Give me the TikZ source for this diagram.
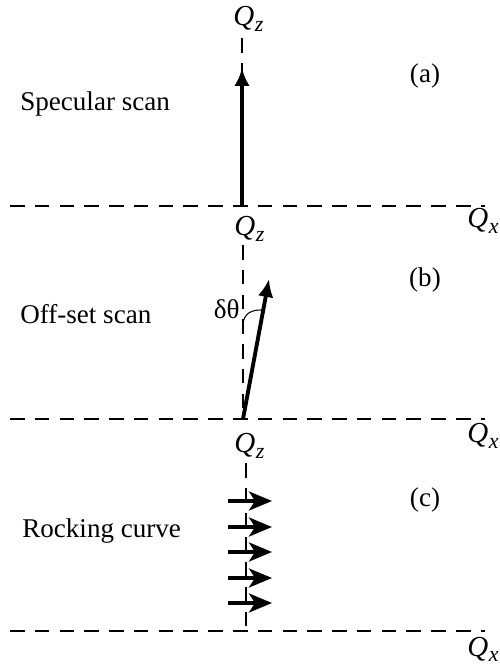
\documentclass[tikz,border=0pt]{standalone}
\usepackage{fontspec}
\setmainfont{Liberation Serif}
\usetikzlibrary{arrows.meta, positioning, calc}

% axis name with a lowered italic index
\newcommand{\qaxis}[1]{{\fontsize{16.5}{18}\selectfont\textit{Q}}\kern0.3pt\raisebox{-0.45ex}{\fontsize{12.5}{14}\selectfont\textit{#1}}}

\begin{document}
\begin{tikzpicture}[
    font=\fontsize{15.4}{18}\selectfont,
    axisline/.style={line width=0.75pt, dash pattern=on 8.3pt off 5.8pt},
    scanarrow/.style={-{Latex[length=3.6mm,width=3.1mm]}, line width=2.2pt},
    rockarrow/.style={-{Stealth[length=4.6mm,width=3.8mm,inset=1.2mm]}, line width=2.0pt},
    anglearc/.style={line width=0.6pt},
    axislabel/.style={inner sep=0pt, anchor=base west},
    scanlabel/.style={inner sep=0pt, anchor=base west},
    taglabel/.style={inner sep=0pt, anchor=base},
  ]
  \useasboundingbox (0,0) rectangle (9.98,13.32);

  % -----------------------------------------------------------
  % (a) specular scan
  % -----------------------------------------------------------
  \coordinate (oa) at (4.84, 9.20);
  \coordinate (la) at (0.20, 9.20);
  \coordinate (ra) at (9.70, 9.20);
  \coordinate (ta) at (4.84, 12.56);
  \draw[axisline] (la) -- (ra);
  \draw[axisline] (ta) -- (oa);
  \node[axislabel] (qza) at (4.66, 12.80) {\qaxis{z}};
  \node[axislabel] (qxa) at (9.34, 8.76) {\qaxis{x}};

  \coordinate (tipa) at (4.84, 11.96);
  \draw[scanarrow] (oa) -- (tipa);

  \node[scanlabel] (speclabel) at (0.40, 11.10) {Specular scan};
  \node[taglabel]  (taga)      at (8.50, 11.66) {(a)};

  % -----------------------------------------------------------
  % (b) off-set scan
  % -----------------------------------------------------------
  \coordinate (ob) at (4.86, 4.94);
  \coordinate (lb) at (0.20, 4.94);
  \coordinate (rb) at (9.70, 4.94);
  \coordinate (tb) at (4.86, 8.42);
  \draw[axisline] (lb) -- (rb);
  \draw[axisline] (tb) -- (ob);
  \node[axislabel] (qzb) at (4.68, 8.60) {\qaxis{z}};
  \node[axislabel] (qxb) at (9.34, 4.46) {\qaxis{x}};

  \coordinate (tipb) at (5.38, 7.74);
  \draw[scanarrow] (ob) -- (tipb);

  % tilt angle from the Qz axis
  \coordinate (arcstart) at (4.86, 6.84);
  \coordinate (arcend)   at (5.25, 7.12);
  \draw[anglearc] (arcstart) .. controls (4.88, 7.03) and (5.00, 7.13) .. (arcend);
  \node[inner sep=0pt, anchor=base east] (dtheta) at (4.80, 6.95) {δθ};

  \node[scanlabel] (offlabel) at (0.40, 6.84) {Off-set scan};
  \node[taglabel]  (tagb)     at (8.50, 7.58) {(b)};

  % -----------------------------------------------------------
  % (c) rocking curve
  % -----------------------------------------------------------
  \coordinate (oc) at (4.92, 0.70);
  \coordinate (lc) at (0.20, 0.70);
  \coordinate (rc) at (9.70, 0.70);
  \coordinate (tc) at (4.92, 4.06);
  \draw[axisline] (lc) -- (rc);
  \draw[axisline] (tc) -- (oc);
  \node[axislabel] (qzc) at (4.68, 4.26) {\qaxis{z}};
  \node[axislabel] (qxc) at (9.34, 0.20) {\qaxis{x}};

  \foreach \y [count=\i] in {3.30, 2.78, 2.28, 1.76, 1.26} {
    \coordinate (rs\i) at (4.56, \y);
    \coordinate (re\i) at (5.44, \y);
    \draw[rockarrow] (rs\i) -- (re\i);
  }

  \node[scanlabel] (rocklabel) at (0.44, 2.56) {Rocking curve};
  \node[taglabel]  (tagc)      at (8.50, 3.18) {(c)};

\end{tikzpicture}
\end{document}
